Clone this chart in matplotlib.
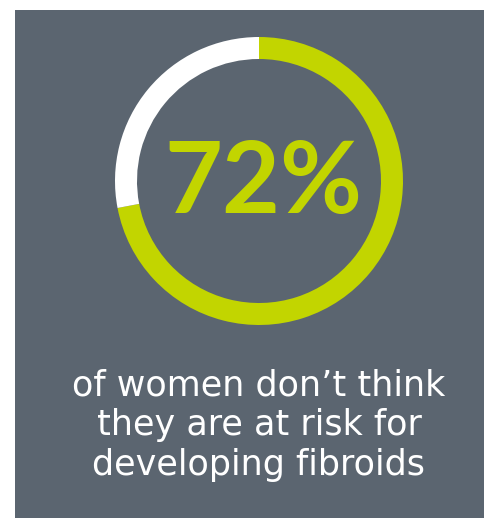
import matplotlib
matplotlib.use('Agg')
import matplotlib.pyplot as plt
from matplotlib.patches import Rectangle

# data
share_labels = ['don\'t think at risk', 'other']
share_values = [72, 28]
headline = '72%'
caption_lines = ['of women don\u2019t think', 'they are at risk for', 'developing fibroids']

bg = '#5b6570'
green = '#c2d500'

W, H = 485, 518
fig = plt.figure(figsize=(W / 100, H / 100), dpi=100)
fig.patch.set_facecolor('white')

# base axes in pixel coords (y down)
ax = fig.add_axes([0, 0, 1, 1])
ax.set_xlim(0, W)
ax.set_ylim(H, 0)
ax.axis('off')
ax.add_patch(Rectangle((15, 10), W - 15, H - 10, facecolor=bg, edgecolor='none'))

ax.text(263, 213, headline, ha='center', va='baseline', color=green,
        fontsize=72, fontweight='bold', family=['Lato', 'DejaVu Sans'])

for i, line in enumerate(caption_lines):
    ax.text(259, 396 + i * 39.5, line, ha='center', va='baseline', color='white',
            fontsize=25.2, family=['DejaVu Sans'])

# ring chart
cx, cy, r = 259, 181, 144
pax = fig.add_axes([(cx - r) / W, (H - cy - r) / H, 2 * r / W, 2 * r / H])
pax.pie(share_values, colors=[green, 'white'], startangle=90, counterclock=False,
        radius=1, wedgeprops=dict(width=22 / r, edgecolor='none'))
pax.set_xlim(-1, 1)
pax.set_ylim(-1, 1)
pax.axis('off')

fig.savefig('out.png', dpi=100, facecolor=fig.get_facecolor())
